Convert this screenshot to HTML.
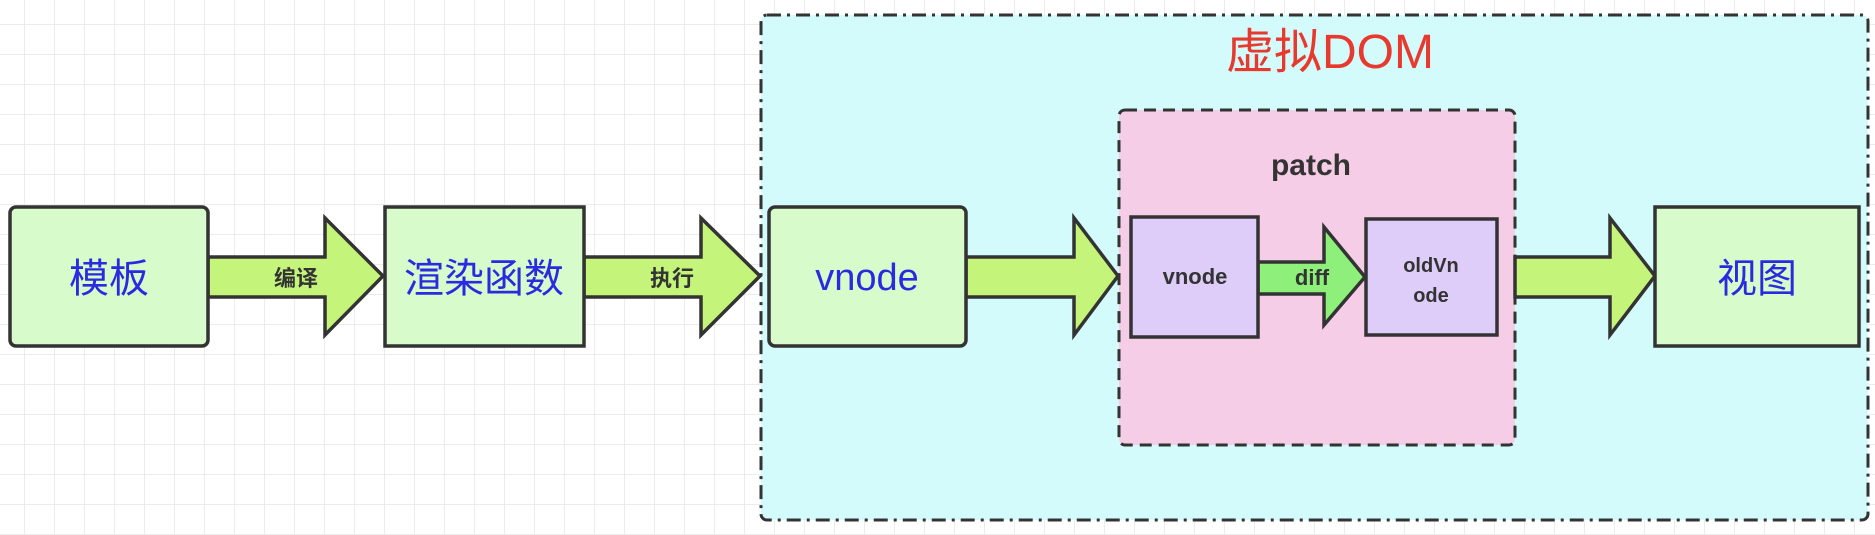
<!DOCTYPE html>
<html><head><meta charset="utf-8"><style>
html,body{margin:0;padding:0;background:#fff}
svg{display:block}
text{font-family:"Liberation Sans","Noto Sans CJK SC",sans-serif}
</style></head><body>
<svg width="1875" height="535" viewBox="0 0 1875 535" xmlns="http://www.w3.org/2000/svg">
<defs>
<pattern id="g" x="24" y="24" width="30" height="30" patternUnits="userSpaceOnUse">
<path d="M0 0H30M0 0V30" stroke="#e6e6e6" stroke-width="1.5" fill="none"/>
</pattern>
</defs>
<rect width="1875" height="535" fill="#fff"/>
<rect width="1875" height="535" fill="url(#g)"/>
<!-- outer virtual DOM box -->
<rect x="761" y="15" width="1107" height="505" rx="6" fill="#d3fbfc" stroke="#333" stroke-width="3" stroke-dasharray="14,6,3,6"/>
<text x="1330" y="68" font-size="48" fill="#e8392f" text-anchor="middle">虚拟DOM</text>
<!-- patch box -->
<rect x="1119" y="110" width="396" height="335" rx="6" fill="#f5cde6" stroke="#333" stroke-width="3" stroke-dasharray="12,7"/>
<text x="1311" y="175" font-size="30" font-weight="bold" fill="#333" text-anchor="middle">patch</text>
<g stroke="#333" stroke-width="3.5" stroke-linejoin="miter">
<!-- arrows -->
<path d="M208 257H325V218L383 276L325 335V297H208Z" fill="#c4f57a"/>
<path d="M584 257H701V218L760 276L701 335V297H584Z" fill="#c4f57a"/>
<path d="M966 257H1074V218L1118 276L1074 335V297H966Z" fill="#c4f57a"/>
<path d="M1515 257H1610V218L1655 276L1610 335V297H1515Z" fill="#c4f57a"/>
<path d="M1258 262H1324V227L1365 277L1324 325V294H1258Z" fill="#8ef07a"/>
<!-- boxes -->
<rect x="10" y="207" width="198" height="139" rx="6" fill="#d8fbcb"/>
<rect x="385" y="207" width="199" height="139" fill="#d8fbcb"/>
<rect x="769" y="207" width="197" height="139" rx="6" fill="#d8fbcb"/>
<rect x="1655" y="207" width="204" height="139" fill="#d8fbcb"/>
<rect x="1131" y="217" width="127" height="120" fill="#decdf8"/>
<rect x="1366" y="219" width="131" height="116" fill="#decdf8"/>
</g>
<g font-size="40" fill="#2a2ae0" text-anchor="middle">
<text x="109" y="292">模板</text>
<text x="484" y="292">渲染函数</text>
<text x="867" y="290" font-size="38">vnode</text>
<text x="1757" y="292">视图</text>
</g>
<g font-weight="bold" fill="#333" text-anchor="middle">
<text x="296" y="286" font-size="22">编译</text>
<text x="672" y="286" font-size="22">执行</text>
<text x="1195" y="284" font-size="22">vnode</text>
<text x="1312" y="285" font-size="22">diff</text>
<text x="1431" y="272" font-size="20">oldVn</text>
<text x="1431" y="302" font-size="20">ode</text>
</g>
</svg>
</body></html>
